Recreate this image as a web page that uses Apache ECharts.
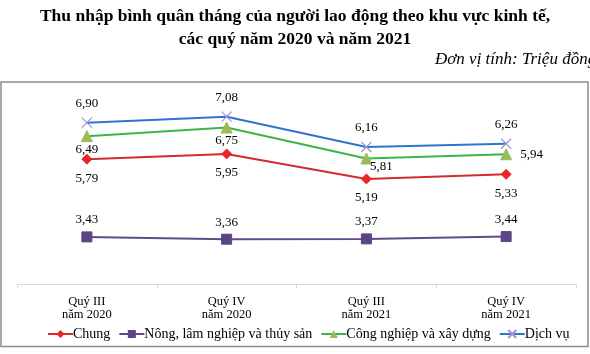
<!DOCTYPE html>
<html>
<head>
<meta charset="utf-8">
<script src="https://cdn.jsdelivr.net/npm/echarts@6/dist/echarts.min.js"></script>
<style>
  html, body { margin: 0; padding: 0; background: #fff; }
  #chart { width: 590px; height: 354px; }
</style>
</head>
<body>
<div id="chart"></div>
<script>
// Data
const quarters = ['Quý III\nnăm 2020', 'Quý IV\nnăm 2020', 'Quý III\nnăm 2021', 'Quý IV\nnăm 2021'];
const chung = [5.79, 5.95, 5.19, 5.33];
const nongLamThuySan = [3.43, 3.36, 3.37, 3.44];
const congNghiepXayDung = [6.49, 6.75, 5.81, 5.94];
const dichVu = [6.90, 7.08, 6.16, 6.26];

const serif = '"Liberation Serif", "DejaVu Serif", serif';
const fmt = p => p.value.toFixed(2).replace('.', ',');

const chart = echarts.init(document.getElementById('chart'));

const baseLabel = {
  show: true,
  formatter: fmt,
  color: '#000',
  fontFamily: serif,
  fontSize: 13
};

// label placement for the green series differs per point
const congLabels = [
  { position: 'bottom', distance: 1 },
  { position: 'bottom', distance: 1 },
  { position: 'inside', offset: [15, 8] },
  { position: 'right', distance: 8 }
];

const option = {
  animation: false,
  title: [
    {
      text: 'Thu nhập bình quân tháng của người lao động theo khu vực kinh tế,\ncác quý năm 2020 và năm 2021',
      left: 'center',
      top: 0,
      textStyle: {
        fontFamily: serif,
        fontWeight: 'bold',
        fontSize: 17.5,
        lineHeight: 23,
        color: '#000'
      }
    },
    {
      text: 'Đơn vị tính: Triệu đồng',
      left: 430,
      top: 46,
      textStyle: {
        fontFamily: serif,
        fontStyle: 'italic',
        fontWeight: 'normal',
        fontSize: 17,
        color: '#000'
      }
    }
  ],
  graphic: [
    {
      type: 'rect',
      shape: { x: 1, y: 82, width: 587, height: 264.5 },
      style: { fill: 'none', stroke: '#8c8c8c', lineWidth: 1.5 },
      z: -1
    }
  ],
  legend: {
    left: 42,
    top: 322,
    itemWidth: 25,
    itemHeight: 10,
    itemGap: 8,
    textStyle: { fontFamily: serif, fontSize: 14, color: '#000', padding: [0, 0, 0, -5] },
    data: ['Chung', 'Nông, lâm nghiệp và thủy sản', 'Công nghiệp và xây dựng', 'Dịch vụ']
  },
  grid: { left: 17, right: 14, top: 86.4, bottom: 70 },
  xAxis: {
    type: 'category',
    data: quarters,
    axisLine: { lineStyle: { color: '#d9d9d9', width: 1 } },
    axisTick: { show: true, length: 4, lineStyle: { color: '#d9d9d9' } },
    axisLabel: {
      fontFamily: serif,
      fontSize: 12.5,
      lineHeight: 13,
      color: '#000',
      margin: 11
    }
  },
  yAxis: { type: 'value', min: 2, max: 8, show: false },
  series: [
    {
      name: 'Chung',
      type: 'line',
      data: chung,
      symbol: 'diamond',
      symbolSize: 10,
      lineStyle: { color: '#d52b2b', width: 2 },
      itemStyle: { color: '#e8262a', borderColor: '#e8262a' },
      label: Object.assign({}, baseLabel, { position: 'bottom', distance: 7 }),
      z: 3
    },
    {
      name: 'Nông, lâm nghiệp và thủy sản',
      type: 'line',
      data: nongLamThuySan,
      symbol: 'rect',
      symbolSize: 10,
      lineStyle: { color: '#5f4a8b', width: 2 },
      itemStyle: { color: '#5b4585', borderColor: '#5b4585' },
      label: Object.assign({}, baseLabel, { position: 'top', distance: 5 }),
      z: 3
    },
    {
      name: 'Công nghiệp và xây dựng',
      type: 'line',
      data: congNghiepXayDung.map((v, i) => ({
        value: v,
        label: Object.assign({}, baseLabel, congLabels[i])
      })),
      symbol: 'triangle',
      symbolSize: 11,
      lineStyle: { color: '#3cb44a', width: 2 },
      itemStyle: { color: '#9bbb59', borderColor: '#9bbb59' },
      label: baseLabel,
      z: 3
    },
    {
      name: 'Dịch vụ',
      type: 'line',
      data: dichVu,
      symbol: 'path://M0,0L10,10M10,0L0,10',
      symbolSize: 10,
      lineStyle: { color: '#2e75d0', width: 2 },
      itemStyle: { color: 'none', borderColor: '#a093d8', borderWidth: 1.2 },
      label: Object.assign({}, baseLabel, { position: 'top', distance: 5 }),
      z: 3
    }
  ]
};

chart.setOption(option);
</script>
</body>
</html>
